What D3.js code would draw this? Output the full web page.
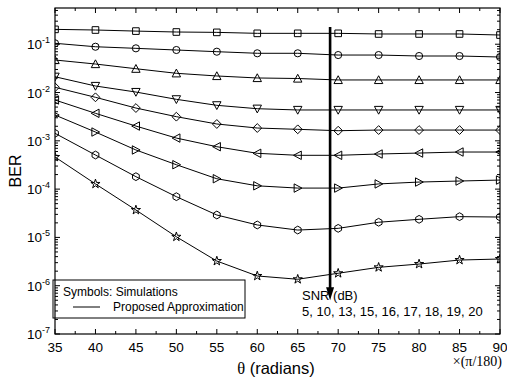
<!DOCTYPE html>
<html><head><meta charset="utf-8">
<script src="https://cdn.jsdelivr.net/npm/d3@7"></script>
<style>body{margin:0;background:#fff}svg{display:block}text{font-family:"Liberation Sans",Arial,sans-serif;fill:#000}</style>
</head><body><svg id="c" width="507" height="384"></svg>
<script>
const theta = [35,40,45,50,55,60,65,70,75,80,85,90];
const snrLabels = ["5","10","13","15","16","17","18","19","20"];
const ber5  = [0.203,0.197,0.187,0.179,0.176,0.168,0.168,0.168,0.163,0.163,0.163,0.155];
const ber10 = [0.1045,0.0887,0.0822,0.0759,0.0700,0.0649,0.0649,0.0597,0.0597,0.0570,0.0570,0.0543];
const ber13 = [0.0471,0.0389,0.0311,0.0250,0.0220,0.0200,0.0195,0.0182,0.0182,0.0182,0.0182,0.0182];
const ber15 = [0.0212,0.01365,0.01023,0.00723,0.00543,0.00462,0.00435,0.00435,0.00435,0.00435,0.00435,0.00435];
const ber16 = [0.01283,0.00796,0.00477,0.00316,0.00223,0.00184,0.00173,0.00162,0.00167,0.00167,0.00167,0.00167];
const ber17 = [0.0070,0.00371,0.00202,0.00114,0.000755,0.000551,0.000501,0.000501,0.000533,0.000558,0.000586,0.000586];
const ber18 = [0.00342,0.00152,0.000646,0.000320,0.000164,0.000117,0.000105,0.000105,0.000128,0.000140,0.000147,0.000154];
const ber19 = [0.00143,0.000508,0.000181,0.0000697,0.0000291,0.0000181,0.0000142,0.0000154,0.0000206,0.0000237,0.0000269,0.0000264];
const ber20 = [0.000462,0.000128,0.0000369,0.0000103,3.24e-6,1.59e-6,1.36e-6,1.81e-6,2.40e-6,2.81e-6,3.40e-6,3.57e-6];
const seriesList = [ber5,ber10,ber13,ber15,ber16,ber17,ber18,ber19,ber20];
const markerKinds = ["square","circle","up","down","diamond","left","right","hexagon","star"];
const xTicks = [35,40,45,50,55,60,65,70,75,80,85,90];
const yTickExp = [-7,-6,-5,-4,-3,-2,-1];
const arrowTheta = 69, arrowTop = 0.227, arrowTip = 5.0e-7;

const svg = d3.select("#c");
const L=55,R=500,T=8,B=334;
const x = d3.scaleLinear().domain([35,90]).range([L,R]);
const y = d3.scaleLog().domain([1e-7, Math.pow(10,-0.25)]).range([B,T]);

svg.append("defs").append("clipPath").attr("id","clip").append("rect")
  .attr("x",L).attr("y",T).attr("width",R-L).attr("height",B-T);

// ticks
const tk = svg.append("g").attr("stroke","#000").attr("stroke-width",1);
const xMinor = d3.range(37.5,90,5);
xTicks.forEach(v=>{
  tk.append("line").attr("x1",x(v)).attr("x2",x(v)).attr("y1",B).attr("y2",B-5);
  tk.append("line").attr("x1",x(v)).attr("x2",x(v)).attr("y1",T).attr("y2",T+5);
});
xMinor.forEach(v=>{
  tk.append("line").attr("x1",x(v)).attr("x2",x(v)).attr("y1",B).attr("y2",B-3);
  tk.append("line").attr("x1",x(v)).attr("x2",x(v)).attr("y1",T).attr("y2",T+3);
});
yTickExp.forEach(e=>{
  const v=Math.pow(10,e);
  tk.append("line").attr("x1",L).attr("x2",L+5).attr("y1",y(v)).attr("y2",y(v));
  tk.append("line").attr("x1",R).attr("x2",R-5).attr("y1",y(v)).attr("y2",y(v));
  for(let m=2;m<=9;m++){
    const mv=m*v; if(mv>y.domain()[1]) break;
    tk.append("line").attr("x1",L).attr("x2",L+3).attr("y1",y(mv)).attr("y2",y(mv));
    tk.append("line").attr("x1",R).attr("x2",R-3).attr("y1",y(mv)).attr("y2",y(mv));
  }
});
svg.append("rect").attr("x",L).attr("y",T).attr("width",R-L).attr("height",B-T)
  .attr("fill","none").attr("stroke","#000").attr("stroke-width",1.2);

// tick labels
xTicks.forEach(v=>{
  svg.append("text").attr("x",x(v)).attr("y",352).attr("text-anchor","middle")
    .attr("font-size",13.5).text(v);
});
yTickExp.forEach(e=>{
  const t=svg.append("text").attr("x",50).attr("y",y(Math.pow(10,e))+5).attr("text-anchor","end").attr("font-size",13.5);
  t.append("tspan").text("10");
  t.append("tspan").attr("font-size",9).attr("dy",-6).text(e);
});

// lines + markers
const line = d3.line().x((d,i)=>x(theta[i])).y(d=>y(d));
const plot = svg.append("g").attr("clip-path","url(#clip)");
function markerPath(kind){
  const s=3.6;
  switch(kind){
    case "square": return d3.symbol(d3.symbolSquare,44)();
    case "circle": return d3.symbol(d3.symbolCircle,40)();
    case "diamond": return `M0,${-s-0.8}L${s+0.8},0L0,${s+0.8}L${-s-0.8},0Z`;
    case "up": return `M0,${-s-0.6}L${s+0.6},${s}L${-s-0.6},${s}Z`;
    case "down": return `M0,${s+0.6}L${s+0.6},${-s}L${-s-0.6},${-s}Z`;
    case "left": return `M${-s-0.6},0L${s},${-s-0.6}L${s},${s+0.6}Z`;
    case "right": return `M${s+0.6},0L${-s},${-s-0.6}L${-s},${s+0.6}Z`;
    case "hexagon": {
      const r=3.9; let p="";
      for(let k=0;k<6;k++){const a=Math.PI/3*k+Math.PI/6; p+=(k?"L":"M")+(r*Math.cos(a)).toFixed(2)+","+(r*Math.sin(a)).toFixed(2);}
      return p+"Z";
    }
    case "star": return d3.symbol(d3.symbolStar,26)();
  }
}
seriesList.forEach((s,si)=>{
  plot.append("path").datum(s).attr("d",line).attr("fill","none").attr("stroke","#000").attr("stroke-width",1);
  const mp=markerPath(markerKinds[si]);
  s.forEach((v,i)=>{
    plot.append("path").attr("d",mp).attr("transform",`translate(${x(theta[i])},${y(v)})`)
      .attr("fill","none").attr("stroke","#000").attr("stroke-width",1);
  });
});

// arrow
const ax=x(arrowTheta);
svg.append("line").attr("x1",ax).attr("x2",ax).attr("y1",y(arrowTop)).attr("y2",y(arrowTip)-10)
  .attr("stroke","#000").attr("stroke-width",2.6);
svg.append("path").attr("d",`M${ax-4},${y(arrowTip)-13}L${ax+4},${y(arrowTip)-13}L${ax},${y(arrowTip)}Z`).attr("fill","#000");
svg.append("text").attr("x",302).attr("y",300).attr("font-size",13).text("SNR (dB)");
svg.append("text").attr("x",302).attr("y",316).attr("font-size",13).text(snrLabels.join(", "));

// legend
svg.append("rect").attr("x",53).attr("y",280).attr("width",192).attr("height",38)
  .attr("fill","none").attr("stroke","#000").attr("stroke-width",1);
svg.append("text").attr("x",63).attr("y",296).attr("font-size",12).text("Symbols: Simulations");
svg.append("line").attr("x1",73).attr("x2",100).attr("y1",307).attr("y2",307).attr("stroke","#000");
svg.append("text").attr("x",113).attr("y",311).attr("font-size",12).text("Proposed Approximation");

// axis titles
const xt=svg.append("text").attr("x",276).attr("y",374).attr("text-anchor","middle").attr("font-size",16.5);
xt.append("tspan").attr("font-family","'Liberation Serif','Times New Roman',serif").text("θ");
xt.append("tspan").text(" (radians)");
svg.append("text").attr("x",502).attr("y",366).attr("text-anchor","end").attr("font-size",14)
  .attr("font-family","'Liberation Serif','Times New Roman',serif").style("font-family","'Liberation Serif',serif").text("×(π/180)");
svg.append("text").attr("transform","translate(21,171) rotate(-90)").attr("text-anchor","middle").attr("font-size",16).text("BER");
</script></body></html>
